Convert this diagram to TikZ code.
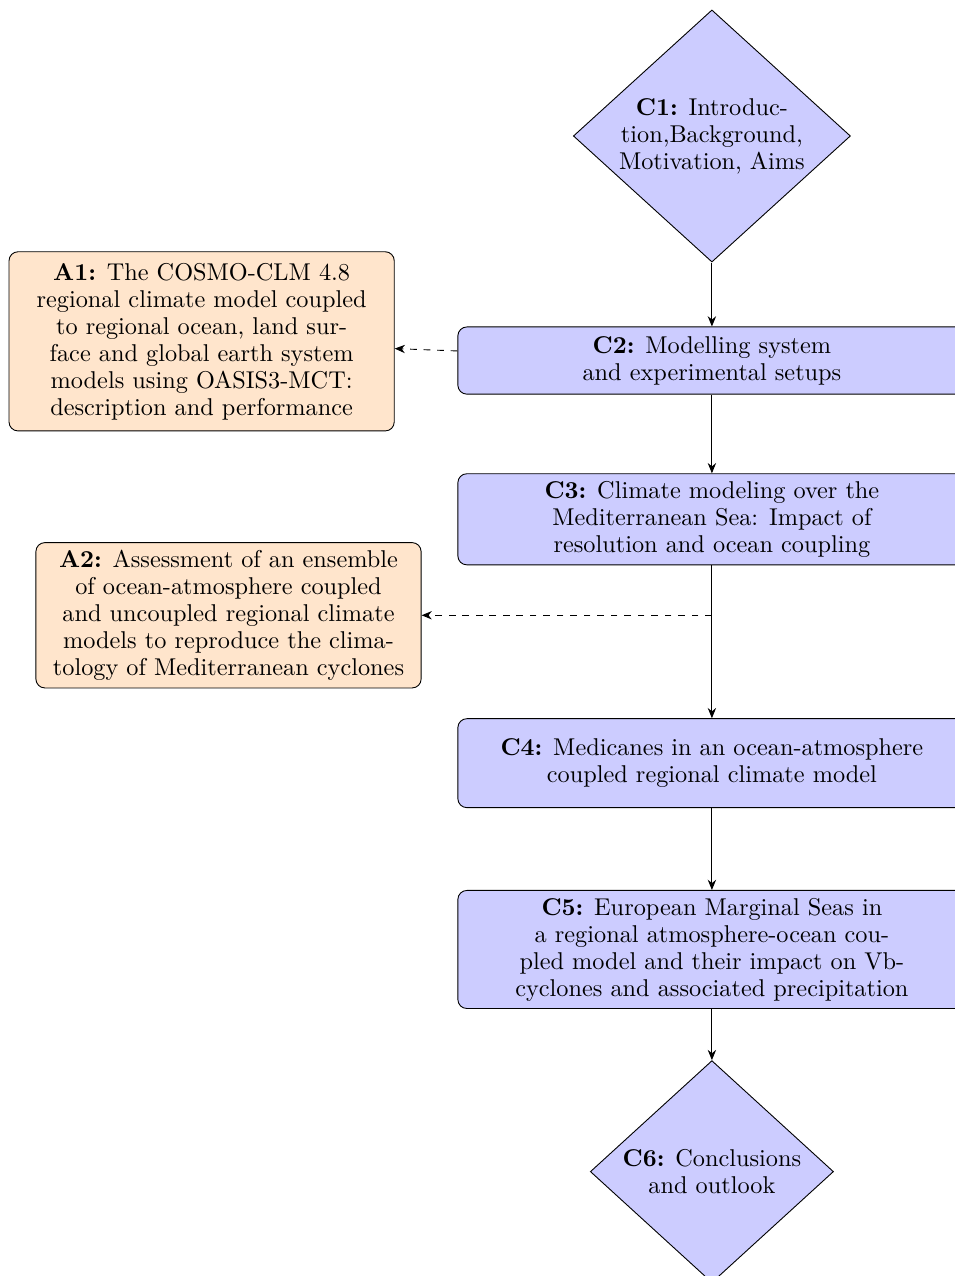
\documentclass[tikz,border=0pt]{standalone}
\usepackage{amsmath,amssymb}
\usepackage{tikz}
\usetikzlibrary{arrows.meta,positioning,calc,shapes.geometric}
\colorlet{chapfill}{blue!20}
\colorlet{artfill}{orange!20}

\begin{document}
\begin{tikzpicture}[node distance=1cm,font=\fontsize{10.8}{12}\selectfont,
  cdiam/.style={diamond,draw,fill=chapfill,aspect=1.1,inner sep=0pt,align=center},
  cbox/.style={rectangle,draw,fill=chapfill,rounded corners,minimum width=7.94cm,minimum height=1.05cm,align=center},
  abox/.style={rectangle,draw,fill=artfill,rounded corners,minimum width=6.02cm,align=center},
  link/.style={-{Stealth[length=1.6mm,width=1.3mm]}},
  sidelink/.style={dashed,-{Stealth[length=1.6mm,width=1.3mm]}}]
\useasboundingbox (0,0) rectangle (14.92,-19.94);
\node[cdiam,minimum width=4.33cm,minimum height=3.94cm] (c1) at (11.125,-2.125) {\textbf{C1:} Introduc-\\tion,Background,\\Motivation, Aims};
\node[cbox,below=1cm of c1] (c2) {\textbf{C2:} Modelling system\\and experimental setups};
\node[cbox,below=1.23cm of c2] (c3) {\textbf{C3:} Climate modeling over the\\Mediterranean Sea: Impact of\\resolution and ocean coupling};
\node[cbox,minimum height=1.39cm,below=2.39cm of c3] (c4) {\textbf{C4:} Medicanes in an ocean-atmosphere\\coupled regional climate model};
\node[cbox,below=1.28cm of c4] (c5) {\textbf{C5:} European Marginal Seas in\\a regional atmosphere-ocean cou-\\pled model and their impact on Vb-\\cyclones and associated precipitation};
\node[cdiam,minimum width=3.8cm,minimum height=3.47cm,below=0.8cm of c5] (c6) {\textbf{C6:} Conclusions\\and outlook};
% articles
\node[abox,minimum height=2.8cm,left=0.98cm of c2,yshift=0.3cm] (a1) {\textbf{A1:} The COSMO-CLM 4.8\\regional climate model coupled\\to regional ocean, land sur-\\face and global earth system\\models using OASIS3-MCT:\\description and performance};
\node[abox,left=0.56cm of c3,yshift=-1.5cm] (a2) {\textbf{A2:} Assessment of an ensemble\\of ocean-atmosphere coupled\\and uncoupled regional climate\\models to reproduce the clima-\\tology of Mediterranean cyclones};
\foreach \a/\b in {c1/c2,c2/c3,c3/c4,c4/c5,c5/c6}{\draw[link] (\a)--(\b);}
\coordinate (br) at (c3 |- a2);
\draw[sidelink] (c2)--(a1);
\draw[sidelink] (br)--(a2);
\end{tikzpicture}
\end{document}
